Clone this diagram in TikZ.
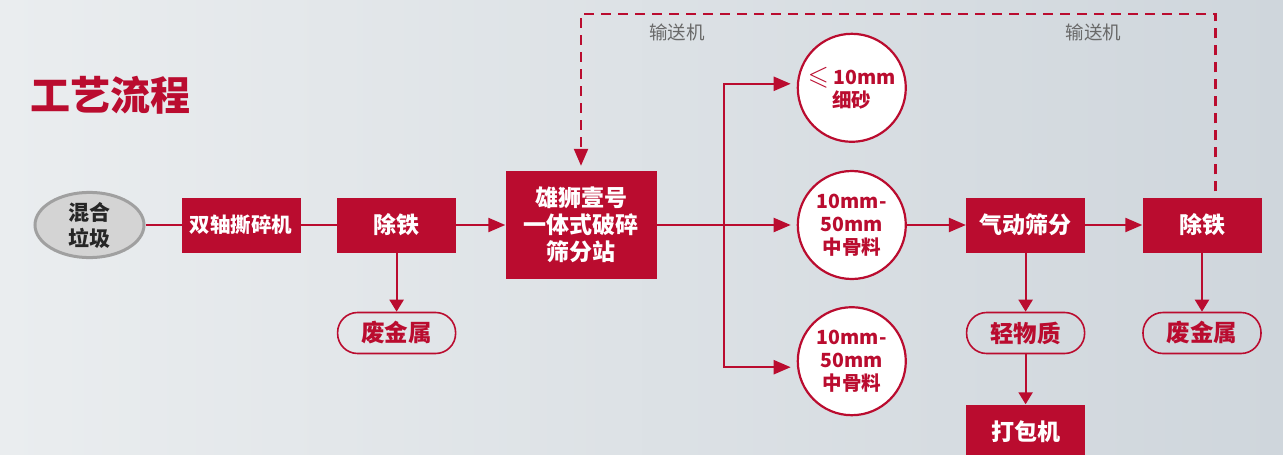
\documentclass[tikz,border=0pt]{standalone}
\usepackage{fontspec}
\usepackage{amssymb}
\setmainfont{Noto Sans CJK SC}
\usetikzlibrary{shapes.geometric, arrows.meta, positioning, calc}
\definecolor{brand}{RGB}{186,12,47}
\definecolor{bgleft}{RGB}{234,237,239}
\definecolor{bgright}{RGB}{207,214,220}
\definecolor{beltgray}{RGB}{105,105,105}
\definecolor{rawfill}{RGB}{212,212,212}
\definecolor{rawdraw}{RGB}{160,160,160}

\begin{document}
\begin{tikzpicture}[
    x=1pt, y=-1pt,
    every node/.style={align=center},
    process/.style={rectangle, minimum width=119pt, minimum height=55pt, inner sep=0pt, fill=brand, text=white, font=\bfseries\fontsize{23}{27}\selectfont},
    station/.style={rectangle, minimum width=151pt, minimum height=108pt, inner sep=0pt, fill=brand, text=white, font=\bfseries\fontsize{23}{27}\selectfont},
    source/.style={ellipse, minimum width=109pt, minimum height=64pt, inner sep=0pt, draw=rawdraw, line width=3pt, fill=rawfill, text=black!85, font=\bfseries\fontsize{21}{26}\selectfont},
    product/.style={circle, minimum size=108pt, inner sep=0pt, draw=brand, line width=2.2pt, fill=white, text=brand, font=\bfseries\fontsize{19.5}{23}\selectfont},
    output/.style={rectangle, rounded corners=20pt, minimum width=118pt, minimum height=41pt, inner sep=0pt, draw=brand, line width=1.6pt, text=brand, font=\bfseries\fontsize{23.5}{27}\selectfont},
    beltlabel/.style={text=beltgray, inner sep=0pt, font=\fontsize{18.5}{20}\selectfont},
    flow/.style={draw=brand, line width=2.2pt},
    arrow/.style={flow, -{Triangle[length=17pt,width=14pt]}},
    drop/.style={flow, -{Triangle[length=12pt,width=14pt]}},
    conveyor/.style={flow, dash pattern=on 10pt off 7pt, -{Triangle[length=17pt,width=14pt]}}
]
\useasboundingbox (0,0) rectangle (1283,455);
\shade[left color=bgleft, right color=bgright] (0,0) rectangle (1283,455);

% Title
\node (title) [anchor=west, inner sep=0pt, text=brand, font=\bfseries\fontsize{40}{42}\selectfont] at (30,95) {工艺流程};

% Pre-treatment
\node (waste) [source] at (89.5,225) {混合\\垃圾};
\node (shredder) [process, right=36pt of waste, font=\bfseries\fontsize{20.5}{24}\selectfont] {双轴撕碎机};
\node (iron1) [process, right=36pt of shredder] {除铁};
\node (metal1) [output, below=59pt of iron1] {废金属};

% Crushing and screening
\node (station) [station, right=49pt of iron1] {雄狮壹号\\一体式破碎\\筛分站};
\coordinate [right=67pt of station] (split);
\node (medium1) [product, right=73pt of split] {10mm-\\50mm\\中骨料};
\node (sand) [product, above=27pt of medium1] {{\fontsize{27}{23}\selectfont\boldmath$\leqslant$} 10mm\\细砂};
\node (medium2) [product, below=26pt of medium1] {10mm-\\50mm\\中骨料};

% Air sorting
\node (air) [process, right=59pt of medium1] {气动筛分};
\node (iron2) [process, right=57pt of air] {除铁};
\node (light) [output, below=59pt of air] {轻物质};
\node (baler) [process, below=50pt of light] {打包机};
\node (metal2) [output, below=59pt of iron2] {废金属};
\coordinate (belt) at (0,14);

% Arrows
\draw [flow] (waste) -- (shredder);
\draw [flow] (shredder) -- (iron1);
\draw [arrow] (iron1) -- (station);
\draw [drop] (iron1) -- (metal1);
\draw [flow] (station) -- (split);
\draw [arrow, shorten >=6pt] (split) |- ([yshift=4pt]sand.west);
\draw [arrow, shorten >=6pt] (split) -- (medium1);
\draw [arrow, shorten >=6pt] (split) |- ([yshift=-6pt]medium2.west);
\draw [arrow] (medium1) -- (air);
\draw [arrow] (air) -- (iron2);
\draw [drop] (air) -- (light);
\draw [drop] (light) -- (baler);
\draw [drop] (iron2) -- (metal2);
\draw [conveyor] ([xshift=13.5pt,yshift=6pt]iron2.north) -- ([xshift=13.5pt]iron2.north |- belt)
    -- node[pos=0.192, below=9pt, beltlabel] {输送机} node[pos=0.849, below=9pt, beltlabel] {输送机} (station.north |- belt)
    -- ([yshift=5pt]station.north);

\end{tikzpicture}
\end{document}
